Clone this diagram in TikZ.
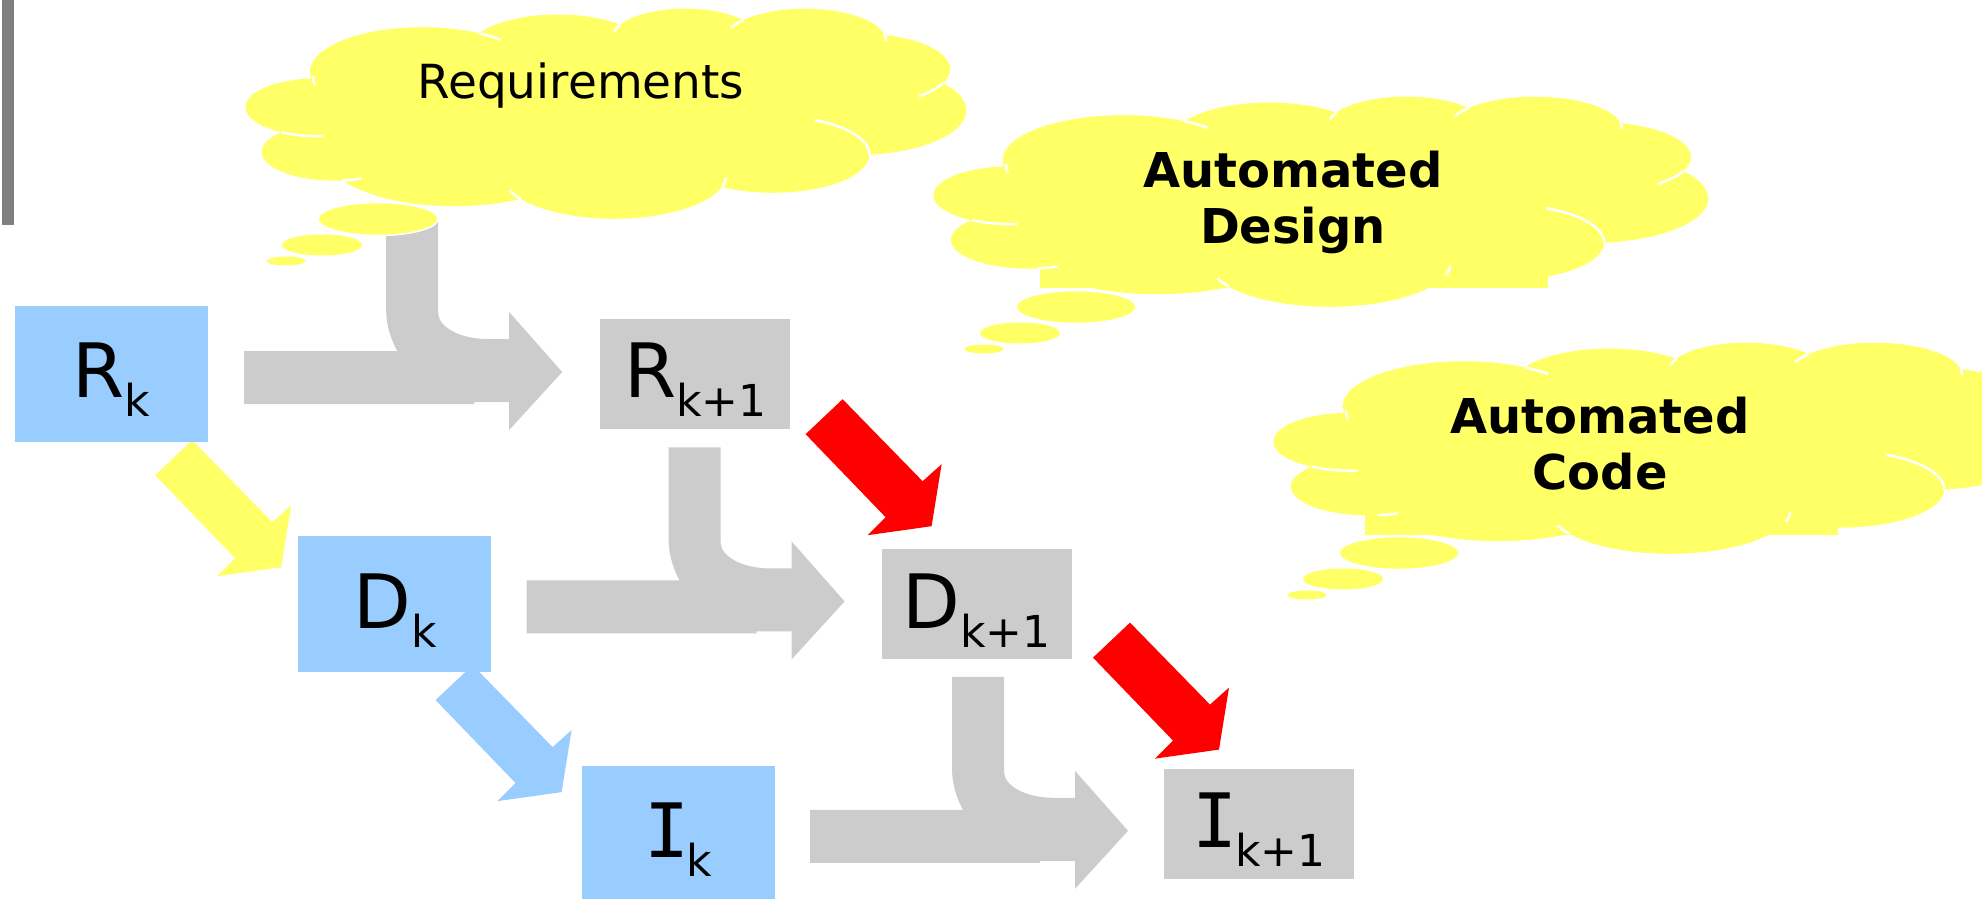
\documentclass[tikz,border=0pt]{standalone}
\usepackage{fontspec}
\setmainfont{DejaVu Sans}
\newfontfamily\monoI{DejaVu Sans Mono}
\usetikzlibrary{positioning,calc,backgrounds}

\definecolor{boxblue}{HTML}{99CCFF}
\definecolor{boxgrey}{HTML}{CCCCCC}
\definecolor{cloudyellow}{HTML}{FFFF66}
\definecolor{arrowred}{HTML}{FF0000}
\definecolor{bargrey}{HTML}{808080}

\newcommand{\lowsub}[1]{\raisebox{-19pt}{\fontsize{44}{44}\selectfont #1}}
\newcommand{\barI}{{\monoI I}\kern-3pt}

\begin{document}
\begin{tikzpicture}
    [x=1pt,y=-1pt,
    blue box/.style={rectangle,fill=boxblue,inner sep=0pt,
    minimum width=193pt,minimum height=136pt,text depth=7pt,
    font=\fontsize{75}{90}\selectfont},
    grey box/.style={rectangle,fill=boxgrey,inner sep=0pt,
    minimum width=190pt,minimum height=110pt,text depth=7pt,
    font=\fontsize{75}{90}\selectfont},
    idea text/.style={align=center,font=\bfseries\fontsize{48}{56}\selectfont},
    crease/.style={white,line width=2.5pt},
    pics/slant arrow/.style={code={
      \fill[#1] (0,0) -- (-37,35) -- (43,118) -- (25,136) -- (89,127)
        -- (99,65) -- (80,82) -- cycle;}},
    pics/merge arrow/.style={code={
      \fill[boxgrey] (-318,32) -- (-318,-21) -- (-165,-21)
        .. controls (-170,-30) and (-176,-45) .. (-176,-62) -- (-176,-154)
        -- (-124,-154) -- (-124,-59)
        .. controls (-124,-45) and (-102,-33) .. (-75,-33)
        -- (-53,-33) -- (-53,-60) -- (0,0) -- (-53,58) -- (-53,30)
        -- (-88,30) -- (-88,32) -- cycle;}},
    pics/bubbles/.style={code={
      \filldraw[fill=cloudyellow,draw=white,line width=1.5pt]
        (0,0) ellipse [x radius=60,y radius=16.5];
      \fill[cloudyellow] (-56,26) ellipse [x radius=40,y radius=10.5];
      \fill[cloudyellow] (-92,42) ellipse [x radius=19.5,y radius=4.5];}},
    % cloud outline in a 432 x 432 frame
    pics/callout cloud/.style={code={
      \fill[cloudyellow] (39,143.7)
        arc[start angle=-187.745,end angle=-59.64,x radius=67.53,y radius=91.90]
        arc[start angle=-152.02,end angle=-45.44,x radius=53.33,y radius=72.67]
        arc[start angle=-153.49,end angle=-37.32,x radius=43.65,y radius=59.45]
        arc[start angle=-139.71,end angle=-10.21,x radius=48.57,y radius=65.95]
        arc[start angle=-74.77,end angle=23.21,x radius=53.33,y radius=72.73]
        arc[start angle=-37.53,end angle=81.86,x radius=67.75,y radius=92.20]
        arc[start angle=0.46,end angle=121.97,x radius=57.85,y radius=78.67]
        arc[start angle=16.85,end angle=146.23,x radius=67.52,y radius=92.15]
        arc[start angle=58.98,end angle=150.20,x radius=77.20,y radius=105.43]
        arc[start angle=-276.69,end angle=-136.89,x radius=43.60,y radius=59.18]
        arc[start angle=-239.65,end angle=-95.89,x radius=43.45,y radius=59.45]
        -- cycle;
      \draw[crease]
        (46.48,263.48) arc[start angle=85.55,end angle=120.35,x radius=43.45,y radius=59.45]
        (69.13,350.93) arc[start angle=68.24,end angle=83.31,x radius=43.60,y radius=59.18]
        (164.82,392.69) arc[start angle=146.23,end angle=158.48,x radius=67.52,y radius=92.15]
        (288.24,349.07) arc[start angle=4.74,end angle=16.85,x radius=67.52,y radius=92.15]
        (341.53,230.70) arc[start angle=-64.03,end angle=0.46,x radius=57.85,y radius=78.67]
        (418.18,154.60) arc[start angle=23.21,end angle=49.64,x radius=53.33,y radius=72.73]
        (383.18,55.76) arc[start angle=-10.21,end angle=0.82,x radius=48.57,y radius=65.95]
        (290.90,40.96) arc[start angle=-156.31,end angle=-139.71,x radius=48.57,y radius=65.95]
        (220.97,48.25) arc[start angle=-167.73,end angle=-153.49,x radius=43.65,y radius=59.45]
        (140.04,52.02) arc[start angle=-59.64,end angle=-45.72,x radius=67.53,y radius=91.90]
        (41.27,157.89) arc[start angle=169.79,end angle=181.19,x radius=67.53,y radius=91.90];}}]
    \useasboundingbox (0,0) rectangle (1982,899);
    \fill[bargrey] (2,0) rectangle (14,225);
    % boxes
    \node[blue box] (Rk) at (111.5,374) {R\lowsub{k}};
    \node[blue box] (Dk) [below right=94pt and 90pt of Rk] {D\lowsub{k}};
    \node[blue box] (Ik) [below right=93pt and 90pt of Dk] {\barI\lowsub{k}};
    \node[grey box] (Rk1) [right=392pt of Rk] {R\lowsub{k+1}};
    \node[grey box] (Dk1) [right=390pt of Dk] {D\lowsub{k+1}};
    \node[grey box] (Ik1) [below right=109pt and 92pt of Dk1] {\barI\lowsub{k+1}};
    % arrows behind the boxes
    \begin{scope}[on background layer]
    \pic at ($(Rk.east)+(354,-2)$) {merge arrow};
    \pic at ($(Dk.east)+(353,-3)$) {merge arrow};
    \pic at ($(Ik.east)+(353,-3)$) {merge arrow};
    \pic at ($(Rk.south east)+(-16,-2)$) {slant arrow=cloudyellow};
    \pic at ($(Dk.south east)+(-19,-7.5)$) {slant arrow=boxblue};
    \pic at ($(Rk1.south east)+(52,-30)$) {slant arrow=arrowred};
    \pic at ($(Dk1.south east)+(58,-37)$) {slant arrow=arrowred};
    \end{scope}
    % clouds
    \fill[cloudyellow] (1040,230) rectangle (1548,288);
    \fill[cloudyellow] (1365,470) rectangle (1838,535);
    \begin{scope}[shift={(246,8)},xscale=720/432,yscale=210/432]
    \pic[transform shape] {callout cloud};
    \end{scope}
    \begin{scope}[shift={(934,96)},xscale=774/432,yscale=210/432]
    \pic[transform shape] {callout cloud};
    \end{scope}
    \begin{scope}[shift={(1274,342)},xscale=774/432,yscale=211/432]
    \pic[transform shape] {callout cloud};
    \end{scope}
    \node[font=\fontsize{47}{56}\selectfont] (req) at (581,85.5) {Requirements};
    \node[idea text] (design) at (1293,202) {Automated\\Design};
    \node[idea text] (code) at (1600,444) {Automated\\Code};
    \pic at (378,219) {bubbles};
    \pic at (1076,307) {bubbles};
    \pic at (1399,553) {bubbles};
\end{tikzpicture}
\end{document}
